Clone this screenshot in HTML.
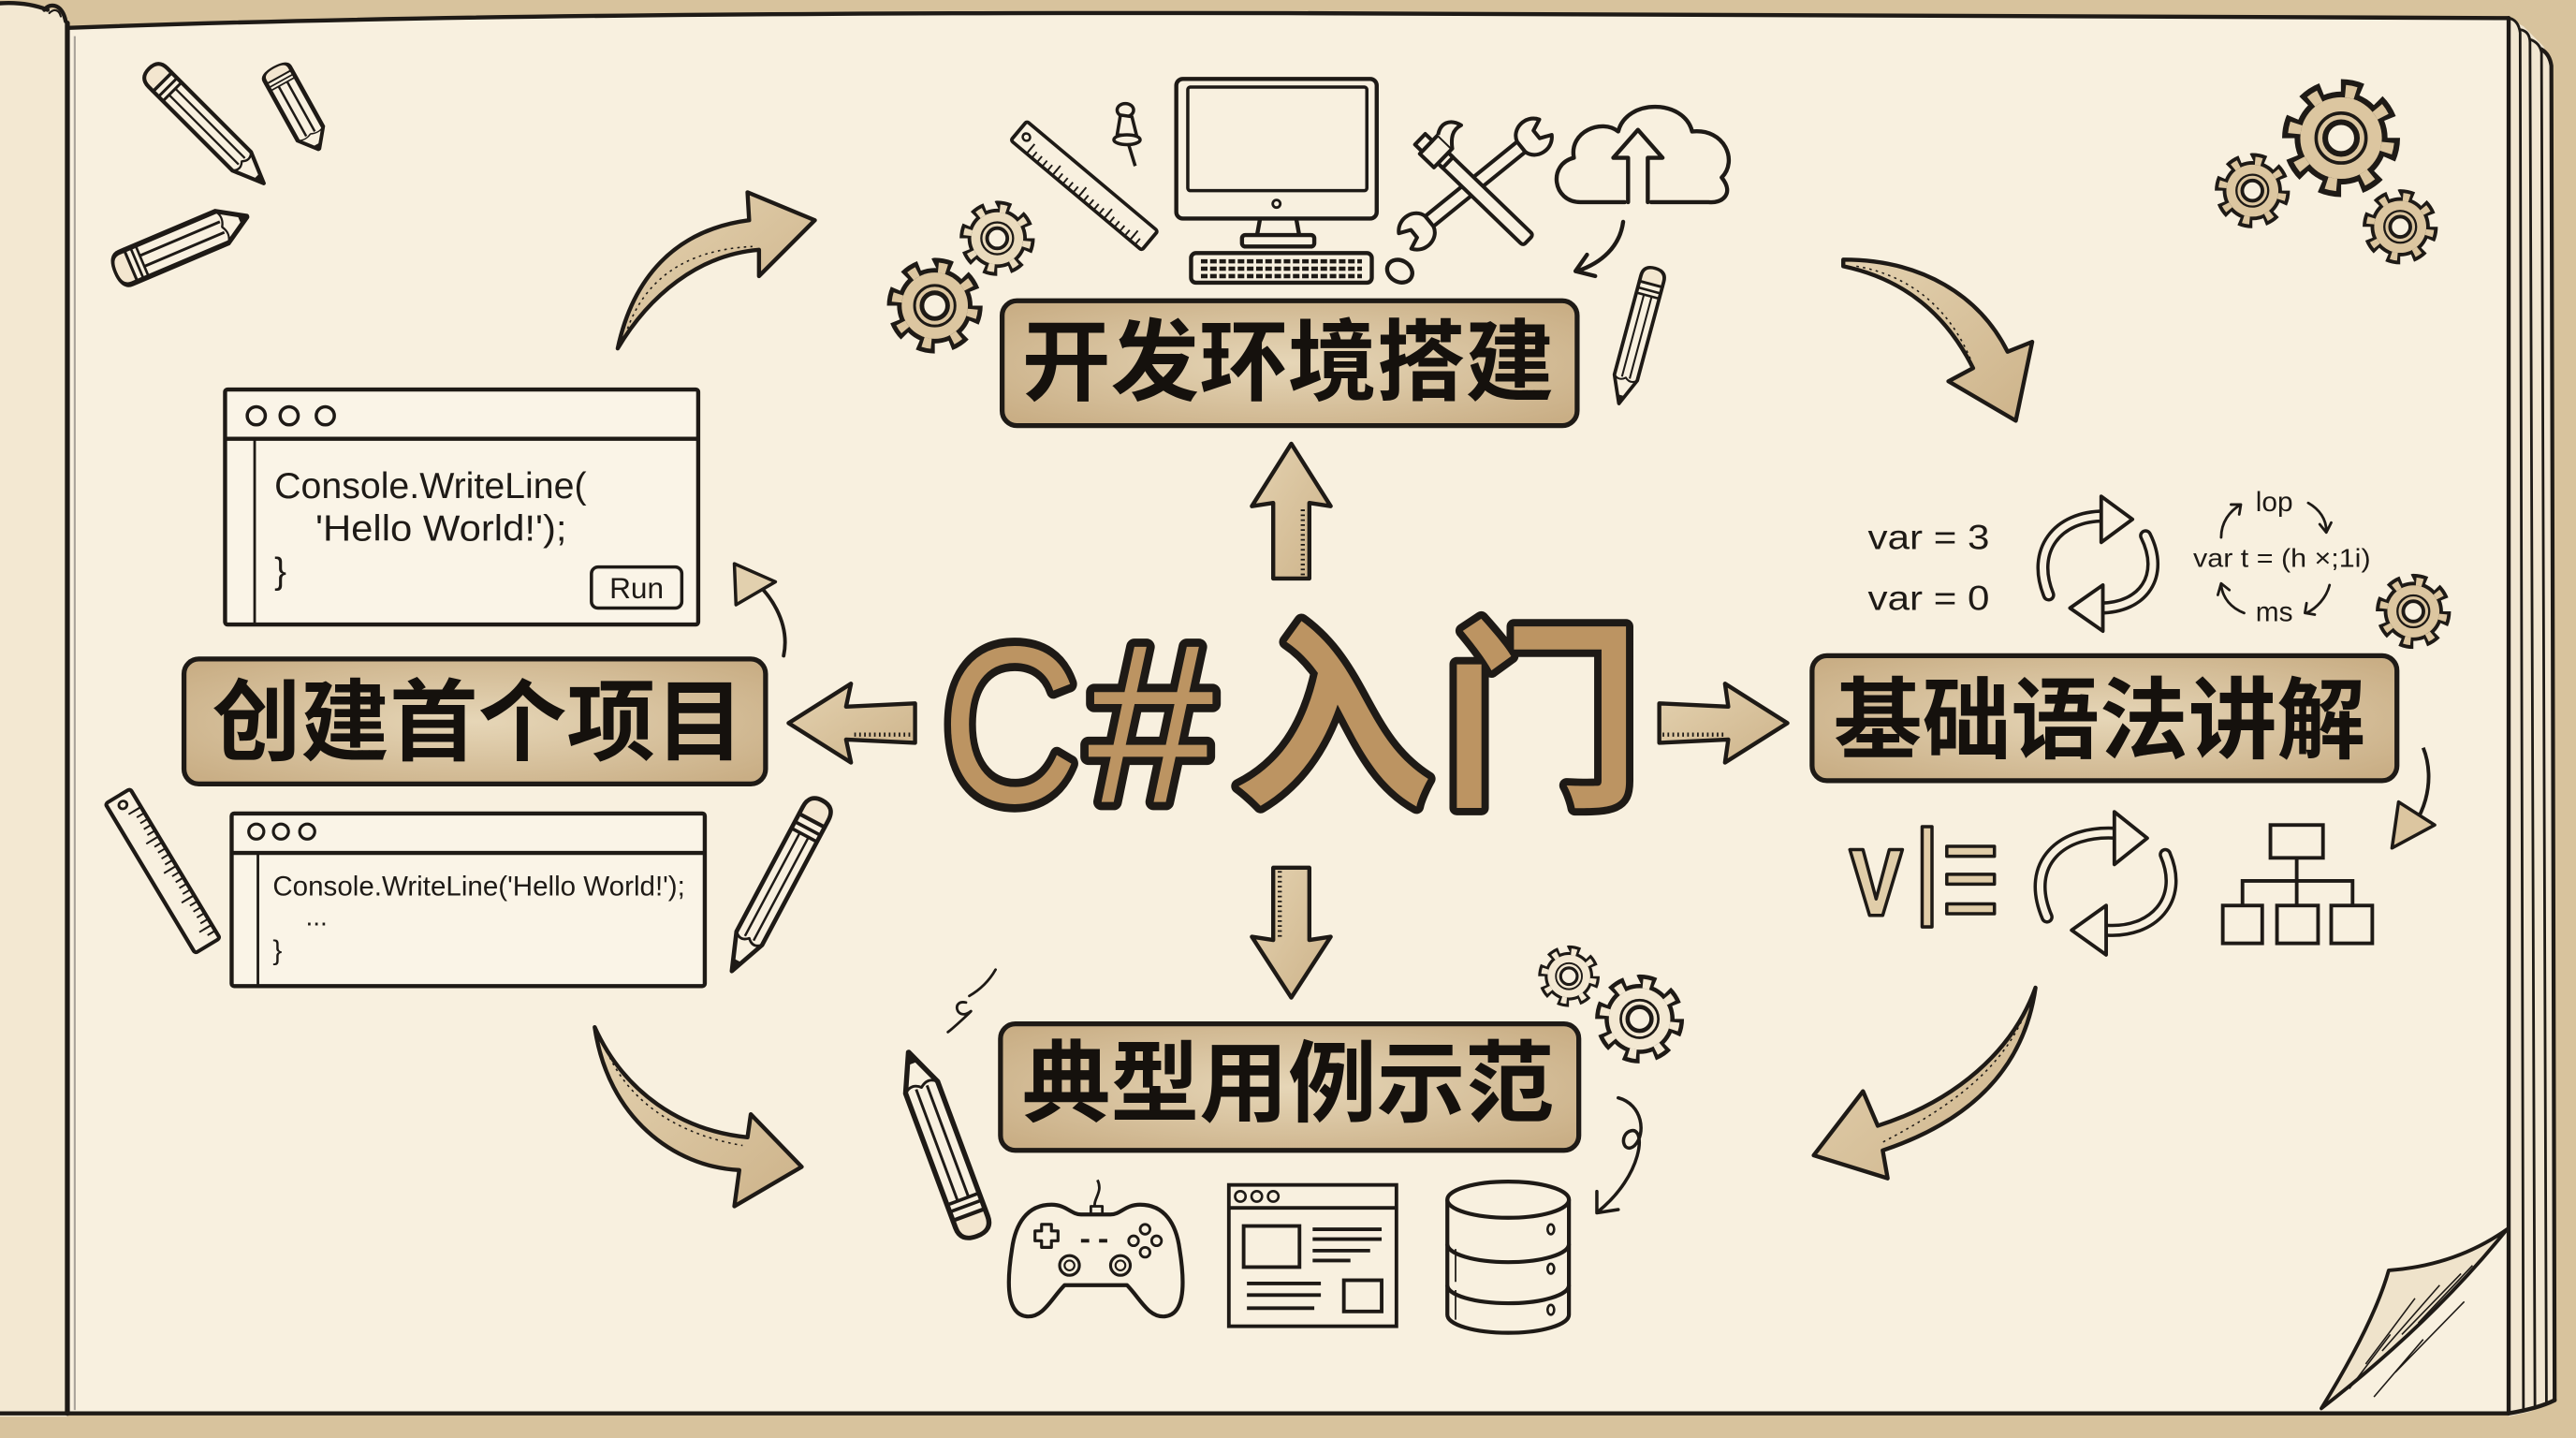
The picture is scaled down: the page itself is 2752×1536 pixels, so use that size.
<!DOCTYPE html>
<html><head><meta charset="utf-8"><style>
html,body{margin:0;padding:0;background:#d8c39d;}
svg{display:block;}
.t{font-family:"Liberation Sans","Noto Sans CJK SC",sans-serif;}
.c{font-family:"Liberation Sans Narrow","Liberation Sans",sans-serif;fill:#1e1a16;}
.lbl{font-family:"Liberation Sans","Noto Sans CJK SC",sans-serif;font-weight:700;font-size:54px;fill:#15110d;text-anchor:middle;dominant-baseline:central;}
</style></head><body>
<svg width="2752" height="1536" viewBox="0 0 1568 875" preserveAspectRatio="none" xmlns="http://www.w3.org/2000/svg">
<defs>
<radialGradient id="bg" cx="50%" cy="50%" r="65%"><stop offset="0" stop-color="#e6d6b7"/><stop offset="1" stop-color="#c9ae85"/></radialGradient>
<linearGradient id="ag" x1="0" y1="0" x2="1" y2="1"><stop offset="0" stop-color="#e4d2b0"/><stop offset="1" stop-color="#cdb38a"/></linearGradient>
<g id="gear">
<circle r="44" fill="none" stroke="#1e1a16" stroke-width="16" pathLength="100" stroke-dasharray="6.5 6"/>
<circle r="41" fill="#1e1a16"/>
<circle r="41.5" fill="none" stroke="currentColor" stroke-width="11" pathLength="100" stroke-dasharray="3.5 9" stroke-dashoffset="-1.5"/>
<circle r="36" fill="currentColor"/>
<circle r="22" fill="none" stroke="#1e1a16" stroke-width="3"/>
<circle r="14" fill="#f8f0df" stroke="#1e1a16" stroke-width="5"/>
</g>
<g id="pencil" stroke="#1e1a16" stroke-linejoin="round">
<path d="M-42,-8 L30,-8 L50,0 L30,8 L-42,8 Z" fill="#f8f0df" stroke-width="2.4"/>
<path d="M-42,-8 L-46,-8 Q-54,-8 -54,0 Q-54,8 -46,8 L-42,8" fill="#f3e6cf" stroke-width="2.4"/>
<path d="M-42,-8 V8 M-37,-8 V8 M-33,-8 V8" fill="none" stroke-width="1.8"/>
<path d="M-33,-2.7 H30 M-33,2.7 H30" fill="none" stroke-width="1.3"/>
<path d="M30,-8 Q34,-4 30,0 Q34,4 30,8" fill="none" stroke-width="1.4"/>
<path d="M44,-2.4 L50,0 L44,2.4 Z" fill="#1e1a16"/>
</g>
<g id="ruler">
<rect x="-52" y="-8" width="104" height="16" rx="1.5" fill="#f8f0df" stroke="#1e1a16" stroke-width="2.2"/>
<line x1="-40" y1="-5.5" x2="48" y2="-5.5" stroke="#1e1a16" stroke-width="5" stroke-dasharray="1.1 3"/>
<line x1="-40" y1="-4" x2="48" y2="-4" stroke="#1e1a16" stroke-width="8" stroke-dasharray="1.1 19.4"/>
<circle cx="-46" cy="0" r="2.3" fill="none" stroke="#1e1a16" stroke-width="1.5"/>
</g>
</defs>

<!-- background & book -->
<rect width="1568" height="875" fill="#d8c39d"/>
<path d="M0,3 Q15,2 28,6 Q36,4 41,14 L41,862 L0,862 Z" fill="#f3e8d2"/>
<path d="M1527,11 L1536,16 L1542,22 L1548,28 L1553,38 L1555,852 L1540,859 L1527,862 Z" fill="#f1e6d1"/>
<path d="M41,17 Q300,7 784,8 Q1200,9 1527,11 L1527,860 L41,860 Z" fill="#f8f0df"/>
<g fill="none" stroke="#1e1a16" stroke-linecap="round">
<path d="M0,2 Q16,1 29,6" stroke-width="2.5"/>
<path d="M27,6 C31,1 38,3 40,13" stroke-width="2.5"/>
<path d="M30,8 C33,5 36,6 37,10" stroke-width="1.2"/>
<path d="M41,14 L41,860" stroke-width="3"/>
<path d="M41,17 Q300,7 784,8 Q1200,9 1527,11" stroke-width="2.5"/>
<path d="M0,860 L1527,860 Q1545,857 1555,852" stroke-width="2.5"/>
<path d="M1527,11 L1527,860" stroke-width="2.5"/>
<path d="M1527,11 Q1533,12 1534,20 L1536,857" stroke-width="1.6"/>
<path d="M1534,18 Q1540,19 1540,26 L1543,855" stroke-width="1.6"/>
<path d="M1540,24 Q1546,26 1547,32 L1550,853" stroke-width="1.6"/>
<path d="M1547,30 Q1552,33 1553,40 L1555,852" stroke-width="2.4"/>
</g>
<path d="M45.5,22 L45.5,858" stroke="#a9a39a" stroke-width="1.2"/>

<!-- page curl -->
<path d="M1413,857 Q1445,805 1454,773 Q1495,770 1526,748 Q1480,805 1413,857 Z" fill="#efe3cb" stroke="#1e1a16" stroke-width="2.2" stroke-linejoin="round"/>
<g stroke="#1e1a16" stroke-width="0.9">
<path d="M1440,830 L1470,790 M1450,822 L1485,782 M1462,812 L1498,775 M1430,845 L1455,812 M1472,805 L1505,770 M1458,835 L1500,792 M1445,850 L1475,815"/>
</g>

<!-- top-left decorations -->
<use href="#pencil" transform="translate(127,78) rotate(45) scale(0.95,1.0)"/>
<use href="#pencil" transform="translate(181,67) rotate(61) scale(0.55,1.1)"/>
<use href="#pencil" transform="translate(112,148) rotate(-23) scale(0.84,1.3)"/>

<!-- top-right gears -->
<use href="#gear" transform="translate(1425,84) scale(0.69)" style="color:#dcc6a0"/>
<use href="#gear" transform="translate(1371,116) scale(0.44)" style="color:#dcc6a0"/>
<use href="#gear" transform="translate(1461,138) scale(0.44)" style="color:#dcc6a0"/>

<!-- curved arrows -->
<g fill="url(#ag)" stroke="#1e1a16" stroke-width="2.5" stroke-linejoin="round">
<path d="M376,212 C385,170 410,140 456,134 L455,117 L496,134 L462,168 L462,152 C425,155 395,180 376,212 Z"/>
<path d="M1122,158 C1170,158 1205,180 1222,214 L1237,208 L1227,256 L1186,232 L1201,224 C1185,192 1160,170 1122,162 Z"/>
<path d="M362,625 C370,680 410,710 450,712 L447,734 L488,710 L457,678 L455,692 C415,688 380,665 362,625 Z"/>
<path d="M1239,601 C1225,640 1190,670 1143,685 L1134,664 L1104,703 L1149,717 L1146,700 C1200,682 1232,650 1239,601 Z"/>
</g>
<g fill="none" stroke="#1e1a16" stroke-width="0.9" stroke-dasharray="1.5 2.5">
<path d="M382,200 C392,172 415,152 458,150"/>
<path d="M1130,162 C1165,168 1188,190 1200,220"/>
<path d="M368,636 C380,668 410,690 452,697"/>
<path d="M1232,618 C1218,650 1190,672 1146,695"/>
</g>

<!-- top center icons -->
<use href="#ruler" transform="translate(660,113) rotate(40) scale(1,-0.95)"/>
<g fill="#f8f0df" stroke="#1e1a16" stroke-width="2" stroke-linejoin="round">
<ellipse cx="685" cy="67" rx="5" ry="4"/>
<path d="M682,70 L680,82 L692,83 L689,71 Z"/>
<ellipse cx="686" cy="85" rx="8" ry="3"/>
<path d="M687,88 L691,101" fill="none"/>
</g>
<use href="#gear" transform="translate(607,145) scale(0.44)" style="color:#eadbbd"/>
<use href="#gear" transform="translate(569,186) scale(0.56)" style="color:#dcc6a0"/>
<g fill="#f8f0df" stroke="#1e1a16" stroke-width="2.5" stroke-linejoin="round">
<rect x="716" y="48" width="122" height="85" rx="4"/>
<rect x="723" y="53" width="109" height="63" rx="1.5" fill="none" stroke-width="2"/>
<circle cx="777" cy="124" r="2.3" stroke-width="1.6"/>
<path d="M767,133 L765,144 M789,133 L791,144" fill="none"/>
<rect x="756" y="143" width="44" height="7" rx="2"/>
<rect x="725" y="154" width="110" height="18" rx="3"/>
<ellipse cx="852" cy="165" rx="8" ry="6.5" transform="rotate(30 852 165)"/>
</g>
<g stroke="#1e1a16" stroke-width="2.6" stroke-dasharray="4 1.6">
<line x1="731" y1="159" x2="829" y2="159"/><line x1="731" y1="163.5" x2="829" y2="163.5"/><line x1="731" y1="168" x2="829" y2="168"/>
</g>
<!-- hammer & wrench -->
<g transform="translate(898,112) rotate(-39)" fill="#f8f0df" stroke="#1e1a16" stroke-width="2.3" stroke-linejoin="round">
<rect x="-36" y="-4" width="72" height="8"/>
<path d="M36,-4 C38,-12 50,-14 55,-6 L48,-3 L48,3 L55,6 C50,14 38,12 36,4 Z"/>
<path d="M-36,-4 C-38,-12 -50,-14 -55,-6 L-48,-3 L-48,3 L-55,6 C-50,14 -38,12 -36,4 Z"/>
</g>
<g transform="translate(900,117) rotate(44)" fill="#f8f0df" stroke="#1e1a16" stroke-width="2.3" stroke-linejoin="round">
<rect x="-30" y="-4.5" width="72" height="9" rx="2"/>
<path d="M-30,-4.5 L-26,-4.5 L-26,4.5 L-30,4.5 Z"/>
<path d="M-42,-8 L-30,-8 L-30,8 L-42,8 Z"/>
<path d="M-42,-8 C-46,-14 -44,-20 -36,-22 C-38,-16 -35,-12 -30,-8"/>
<rect x="-48" y="-3" width="6" height="9"/>
</g>
<!-- cloud -->
<g fill="none" stroke="#1e1a16" stroke-width="2.5" stroke-linejoin="round" stroke-linecap="round">
<path d="M989,123 L962,123 C945,123 942,100 958,96 C955,80 975,72 985,80 C990,60 1025,60 1030,80 C1050,78 1058,98 1048,108 C1056,118 1048,124 1040,123 L1005,123" fill="#f8f0df"/>
<path d="M991,123 L991,96 L982,96 L997,79 L1012,96 L1003,96 L1003,123" fill="#f8f0df"/>
<path d="M988,135 C986,150 975,160 960,165"/>
<path d="M966,155 L959,165 L971,168"/>
</g>
<use href="#pencil" transform="translate(996,206) rotate(105) scale(0.82,0.9)"/>

<!-- top box -->
<rect x="610" y="183" width="350" height="76" rx="9" fill="url(#bg)" stroke="#1e1a16" stroke-width="3"/>
<text class="lbl" x="784" y="221">开发环境搭建</text>

<!-- straight arrows -->
<g fill="url(#ag)" stroke="#1e1a16" stroke-width="2.5" stroke-linejoin="round">
<path d="M786,270 L810,308 L797,306 L797,352 L775,352 L775,306 L762,308 Z"/>
<path d="M775,528 L797,528 L797,572 L810,570 L786,607 L762,570 L775,572 Z"/>
<path d="M480,440 L518,416 L515,430 L557,428 L557,452 L515,450 L518,464 Z"/>
<path d="M1010,428 L1052,430 L1050,416 L1088,440 L1050,464 L1052,450 L1010,452 Z"/>
</g>
<g stroke="#1e1a16" stroke-width="2.5" stroke-dasharray="1 2">
<line x1="520" y1="447" x2="556" y2="447"/>
<line x1="1012" y1="447" x2="1050" y2="447"/>
<line x1="793" y1="310" x2="793" y2="350"/>
<line x1="779" y1="530" x2="779" y2="570"/>
</g>

<!-- center title -->
<g stroke="#1e1a16" stroke-width="10" stroke-linejoin="round" paint-order="stroke" fill="#bc9462">
<text class="t" x="0" y="0" transform="translate(573,488) scale(0.85,1)" font-size="136">C</text>
<text class="t" x="662" y="488" font-size="138">#</text>
<text class="t" x="811" y="439" font-size="122" font-weight="700" stroke-width="9" text-anchor="middle" dominant-baseline="central">入</text>
<text class="t" x="938" y="439" font-size="122" font-weight="700" stroke-width="9" text-anchor="middle" dominant-baseline="central">门</text>
</g>

<!-- left: code window 1 -->
<g fill="#faf4e7" stroke="#1e1a16" stroke-width="2.5">
<rect x="137" y="237" width="288" height="143" rx="1.5"/>
<path d="M137,267 L425,267" fill="none"/>
<path d="M155,267 L155,380" fill="none" stroke-width="1.6"/>
<circle cx="156" cy="253" r="5.5" stroke-width="2"/>
<circle cx="176" cy="253" r="5.5" stroke-width="2"/>
<circle cx="198" cy="253" r="5.5" stroke-width="2"/>
<rect x="360" y="345" width="55" height="25" rx="4" stroke-width="2"/>
</g>
<text class="c" x="167" y="303" font-size="22" textLength="190" lengthAdjust="spacingAndGlyphs">Console.WriteLine(</text>
<text class="c" x="192" y="329" font-size="22" textLength="153" lengthAdjust="spacingAndGlyphs">'Hello World!');</text>
<text class="c" x="167" y="355" font-size="22">}</text>
<text class="c" x="387.5" y="364" font-size="18" text-anchor="middle">Run</text>
<g fill="none" stroke="#1e1a16" stroke-width="2.2" stroke-linejoin="round" stroke-linecap="round">
<path d="M477,399 C481,380 470,360 452,348"/>
</g>
<path d="M448,368 L447,343 L472,354 Z" fill="#e2d0ae" stroke="#1e1a16" stroke-width="2" stroke-linejoin="round"/>

<!-- left box -->
<rect x="112" y="401" width="354" height="76" rx="9" fill="url(#bg)" stroke="#1e1a16" stroke-width="3"/>
<text class="lbl" x="291" y="440">创建首个项目</text>

<!-- left: code window 2 -->
<use href="#ruler" transform="translate(99,530) rotate(59) scale(1.02,1.1)"/>
<g fill="#faf4e7" stroke="#1e1a16" stroke-width="2.5">
<rect x="141" y="495" width="288" height="105" rx="1.5"/>
<path d="M141,519 L429,519" fill="none"/>
<path d="M157,519 L157,600" fill="none" stroke-width="1.6"/>
<circle cx="156" cy="506" r="4.6" stroke-width="1.8"/>
<circle cx="171" cy="506" r="4.6" stroke-width="1.8"/>
<circle cx="187" cy="506" r="4.6" stroke-width="1.8"/>
</g>
<text class="c" x="166" y="545" font-size="17" textLength="251" lengthAdjust="spacingAndGlyphs">Console.WriteLine('Hello World!');</text>
<text class="c" x="186" y="563" font-size="16">...</text>
<text class="c" x="166" y="584" font-size="17">}</text>
<use href="#pencil" transform="translate(472,541) rotate(118) scale(1.13,1.1)"/>

<!-- right: syntax area -->
<text class="c" x="1137" y="334" font-size="21" textLength="74" lengthAdjust="spacingAndGlyphs">var = 3</text>
<text class="c" x="1137" y="371" font-size="21" textLength="74" lengthAdjust="spacingAndGlyphs">var = 0</text>
<g fill="none" stroke-linecap="round">
<path d="M1247,362 C1236,335 1252,314 1281,314" stroke="#1e1a16" stroke-width="8"/>
<path d="M1247,362 C1236,335 1252,314 1281,314" stroke="#f8f0df" stroke-width="4"/>
<path d="M1306,326 C1318,350 1305,370 1278,370" stroke="#1e1a16" stroke-width="8"/>
<path d="M1306,326 C1318,350 1305,370 1278,370" stroke="#f8f0df" stroke-width="4"/>
</g>
<g fill="#f8f0df" stroke="#1e1a16" stroke-width="2.2" stroke-linejoin="round">
<path d="M1279,302 L1298,316 L1279,330 Z"/>
<path d="M1280,356 L1260,370 L1280,384 Z"/>
</g>
<text class="c" x="1373" y="311" font-size="17">lop</text>
<text class="c" x="1335" y="345" font-size="16" textLength="108" lengthAdjust="spacingAndGlyphs">var t = (h ×;1i)</text>
<text class="c" x="1373" y="378" font-size="17">ms</text>
<g fill="none" stroke="#1e1a16" stroke-width="1.6" stroke-linecap="round" stroke-linejoin="round">
<path d="M1352,327 C1352,318 1357,311 1364,307 M1358,307 L1364,307 L1363,313"/>
<path d="M1405,306 C1412,310 1416,316 1416,323 M1412,319 L1416,324 L1419,318"/>
<path d="M1352,356 C1353,364 1358,370 1366,373 M1350,362 L1352,355 L1357,359"/>
<path d="M1418,356 C1416,364 1410,370 1404,373 M1404,367 L1403,373 L1409,374"/>
</g>
<use href="#gear" transform="translate(1469,372) scale(0.44)" style="color:#dcc6a0"/>

<!-- right box -->
<rect x="1103" y="399" width="356" height="76" rx="9" fill="url(#bg)" stroke="#1e1a16" stroke-width="3"/>
<text class="lbl" x="1278" y="439">基础语法讲解</text>
<path d="M1475,455 C1483,475 1476,500 1459,513" fill="none" stroke="#1e1a16" stroke-width="2.2"/>
<path d="M1460,488 L1456,516 L1482,502 Z" fill="#dcc6a0" stroke="#1e1a16" stroke-width="2" stroke-linejoin="round"/>

<!-- right bottom icons -->
<g fill="#e0cda9" stroke="#1e1a16" stroke-width="2" stroke-linejoin="round">
<path d="M1126,517 L1134,517 L1142,547 L1150,517 L1158,517 L1146,557 L1138,557 Z"/>
<rect x="1170" y="503" width="6" height="61"/>
<rect x="1185" y="515" width="29" height="6"/>
<rect x="1185" y="532" width="29" height="6"/>
<rect x="1185" y="550" width="29" height="6"/>
</g>
<g fill="none" stroke-linecap="round">
<path d="M1246,558 C1232,525 1255,505 1288,507" stroke="#1e1a16" stroke-width="8"/>
<path d="M1246,558 C1232,525 1255,505 1288,507" stroke="#f8f0df" stroke-width="4"/>
<path d="M1318,520 C1330,548 1310,568 1282,566" stroke="#1e1a16" stroke-width="8"/>
<path d="M1318,520 C1330,548 1310,568 1282,566" stroke="#f8f0df" stroke-width="4"/>
</g>
<g fill="#f8f0df" stroke="#1e1a16" stroke-width="2.2" stroke-linejoin="round">
<path d="M1287,494 L1307,510 L1287,526 Z"/>
<path d="M1282,551 L1261,566 L1282,581 Z"/>
</g>
<g fill="none" stroke="#1e1a16" stroke-width="2.2">
<rect x="1382" y="502" width="32" height="20"/>
<rect x="1353" y="551" width="24" height="23"/>
<rect x="1386" y="551" width="25" height="23"/>
<rect x="1419" y="551" width="25" height="23"/>
<path d="M1398,522 V551 M1365,551 V536 H1432 V551"/>
</g>

<!-- bottom area -->
<use href="#gear" transform="translate(955,594) scale(0.36)" style="color:#f3e8d2"/>
<use href="#gear" transform="translate(998,620) scale(0.52)" style="color:#f3e8d2"/>
<path d="M590,606 C597,602 602,597 606,590 M588,610 C579,608 582,621 590,616 C595,612 581,625 577,628" fill="none" stroke="#1e1a16" stroke-width="1.6" stroke-linecap="round"/>
<use href="#pencil" transform="translate(573,694) rotate(-110.4) scale(1.15,1.3)"/>

<rect x="609" y="623" width="352" height="77" rx="9" fill="url(#bg)" stroke="#1e1a16" stroke-width="3"/>
<text class="lbl" x="784" y="660">典型用例示范</text>

<path d="M985,668 C1000,672 1002,690 995,697 C988,703 985,690 993,688 C1002,686 1000,715 973,737" fill="none" stroke="#1e1a16" stroke-width="2" stroke-linecap="round"/>
<path d="M972,725 L972,738 L985,736" fill="none" stroke="#1e1a16" stroke-width="2" stroke-linecap="round" stroke-linejoin="round"/>

<!-- gamepad -->
<g fill="#f8f0df" stroke="#1e1a16" stroke-width="2.4" stroke-linejoin="round">
<path d="M667,736 C664,730 672,726 668,718" fill="none" stroke-width="1.6"/>
<rect x="664" y="734" width="7" height="5" stroke-width="1.6"/>
<path d="M640,733 C625,733 618,745 616,760 C612,785 614,800 625,801 C635,802 640,790 648,782 L686,782 C694,790 699,802 709,801 C720,800 722,785 718,760 C716,745 709,733 694,733 C685,733 682,739 676,739 L658,739 C652,739 649,733 640,733 Z"/>
<path d="M634,745 H640 V749 H644 V755 H640 V759 H634 V755 H630 V749 H634 Z" stroke-width="1.8"/>
<path d="M658,755 H663 M669,755 H674" stroke-width="2.2"/>
<circle cx="697" cy="748" r="3" stroke-width="1.6"/>
<circle cx="690" cy="755" r="3" stroke-width="1.6"/>
<circle cx="704" cy="755" r="3" stroke-width="1.6"/>
<circle cx="697" cy="762" r="3" stroke-width="1.6"/>
<circle cx="651" cy="770" r="6" stroke-width="1.8"/>
<circle cx="682" cy="770" r="6" stroke-width="1.8"/>
<circle cx="651" cy="770" r="3" stroke-width="1.2"/>
<circle cx="682" cy="770" r="3" stroke-width="1.2"/>
</g>

<!-- browser -->
<g fill="#f8f0df" stroke="#1e1a16" stroke-width="2.2">
<rect x="748" y="721" width="102" height="86"/>
<path d="M748,735 H850" fill="none"/>
<circle cx="755" cy="728" r="3.2" stroke-width="1.5"/>
<circle cx="765" cy="728" r="3.2" stroke-width="1.5"/>
<circle cx="775" cy="728" r="3.2" stroke-width="1.5"/>
<rect x="757" y="746" width="34" height="25"/>
<rect x="818" y="779" width="23" height="19"/>
<path d="M799,748 H841 M799,754 H841 M799,761 H834 M799,767 H822 M759,781 H804 M759,788 H804 M759,796 H800" fill="none"/>
</g>

<!-- database -->
<g fill="#f8f0df" stroke="#1e1a16" stroke-width="2.4">
<path d="M881,730 V800 A37,11 0 0 0 955,800 V730"/>
<ellipse cx="918" cy="730" rx="37" ry="11"/>
<path d="M881,757 A37,11 0 0 0 955,757 M881,782 A37,11 0 0 0 955,782" fill="none"/>
<path d="M886,760 V780 M886,785 V803" fill="none" stroke-width="1"/>
<ellipse cx="944" cy="748" rx="2" ry="3" stroke-width="1.5"/>
<ellipse cx="944" cy="772" rx="2" ry="3" stroke-width="1.5"/>
<ellipse cx="944" cy="797" rx="2" ry="3" stroke-width="1.5"/>
</g>
</svg>
</body></html>
